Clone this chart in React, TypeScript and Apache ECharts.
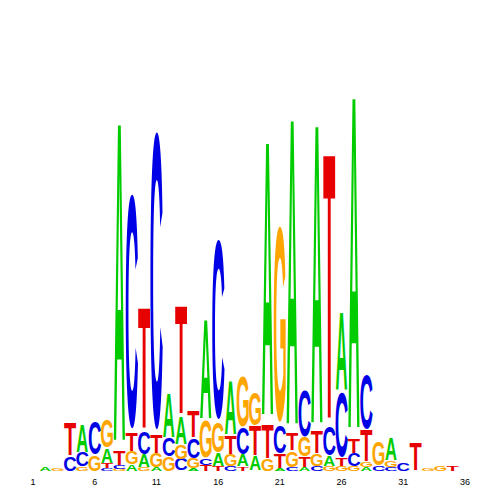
import React, { useEffect, useRef } from "react";
import * as echarts from "echarts";

// Sequence positions (x axis categories)
const POSITIONS = [
  "1", "2", "3", "4", "5", "6", "7", "8", "9", "10", "11", "12",
  "13", "14", "15", "16", "17", "18", "19", "20", "21", "22", "23", "24",
  "25", "26", "27", "28", "29", "30", "31", "32", "33", "34", "35", "36",
];

const LETTERS = ["A", "C", "G", "T"];

// Letter heights (bits) per position
const A_BITS = [
  0, 0.02, 0, 0, 0.142, 0, 0.076, 1.664, 0.031, 0.066, 0.02, 0.229,
  0.142, 0.015, 0.514, 0.066, 0.28, 0.061, 0.076, 1.43, 0.015, 1.598, 0.02, 1.562,
  0.051, 0.407, 1.735, 0.02, 0, 0.112, 0, 0, 0, 0, 0, 0,
];
const C_BITS = [
  0, 0, 0, 0.076, 0.071, 0.168, 0.015, 0.02, 1.201, 0.112, 1.527, 0.097,
  0.061, 0.102, 0.036, 0.921, 0.025, 0.137, 0, 0, 0.142, 0.02, 0.239, 0.025,
  0.148, 0.331, 0.066, 0.28, 0.025, 0.02, 0.041, 0, 0, 0, 0, 0,
];
const G_BITS = [
  0, 0, 0.015, 0, 0.02, 0.081, 0.142, 0.01, 0.066, 0.02, 0.071, 0.071,
  0.071, 0.051, 0.188, 0.153, 0.061, 0.254, 0.168, 0.061, 1.003, 0.081, 0.102, 0.061,
  0.025, 0.025, 0.025, 0.025, 0.122, 0.031, 0, 0, 0.015, 0.025, 0, 0,
];
const T_BITS = [
  0, 0, 0, 0.168, 0, 0, 0.025, 0.076, 0.097, 0.631, 0.092, 0,
  0.56, 0.137, 0.031, 0.025, 0.092, 0.02, 0.153, 0.178, 0.076, 0.087, 0.051, 0.112,
  1.384, 0.041, 0.076, 0.163, 0, 0, 0, 0.142, 0, 0, 0.025, 0,
];

const COLORS: Record<string, string> = {
  A: "#00cc00",
  C: "#0000e6",
  G: "#ffa500",
  T: "#e60000",
};

// approximate ink widths (em) of bold sans glyphs
const INK: Record<string, number> = { A: 0.72, C: 0.64, G: 0.68, T: 0.6 };
const CAP = 0.716;

function buildData() {
  const sets = [A_BITS, C_BITS, G_BITS, T_BITS];
  const out: number[][] = [];
  for (let i = 0; i < POSITIONS.length; i++) {
    const items = LETTERS.map((l, li) => ({ li, h: sets[li][i] }))
      .filter((d) => d.h > 0)
      .sort((a, b) => a.h - b.h);
    let base = 0;
    for (const it of items) {
      out.push([i, base, base + it.h, it.li]);
      base += it.h;
    }
  }
  return out;
}

export default function App() {
  const ref = useRef<HTMLDivElement>(null);
  useEffect(() => {
    if (!ref.current) return;
    const chart = echarts.init(ref.current, null, { renderer: "svg" });
    const F = 100;
    chart.setOption({
      animation: false,
      backgroundColor: "#ffffff",
      grid: { left: 26.8, right: 28.8, top: 78, bottom: 29 },
      xAxis: {
        type: "category",
        data: POSITIONS,
        boundaryGap: true,
        axisLine: { show: false },
        axisTick: { show: false },
        axisLabel: {
          interval: 4,
          margin: 6,
          fontSize: 9,
          color: "#000",
          fontFamily: "Liberation Sans",
        },
        splitLine: { show: false },
      },
      yAxis: {
        type: "value",
        min: 0,
        max: 2,
        show: false,
      },
      series: [
        {
          type: "custom",
          data: buildData(),
          encode: { x: 0, y: [1, 2] },
          clip: false,
          renderItem: (params: any, api: any) => {
            const i = api.value(0);
            const b = api.value(1);
            const t = api.value(2);
            const li = api.value(3);
            const p0 = api.coord([i, b]);
            const p1 = api.coord([i, t]);
            const bw = api.size([1, 0])[0];
            const h = p0[1] - p1[1];
            const letter = LETTERS[li];
            return {
              type: "text",
              x: p0[0],
              y: (p0[1] + p1[1]) / 2 - h * 0.018,
              scaleX: (bw * 0.97) / (INK[letter] * F),
              scaleY: h / (CAP * F),
              style: {
                text: letter,
                fontSize: F,
                fontFamily: "Liberation Sans",
                fontWeight: "bold",
                fill: COLORS[letter],
                align: "center",
                verticalAlign: "middle",
              },
            };
          },
        },
      ],
    });
    return () => chart.dispose();
  }, []);
  return (
    <div
      ref={ref}
      style={{ position: "fixed", left: 0, top: 0, width: 500, height: 500 }}
    />
  );
}
